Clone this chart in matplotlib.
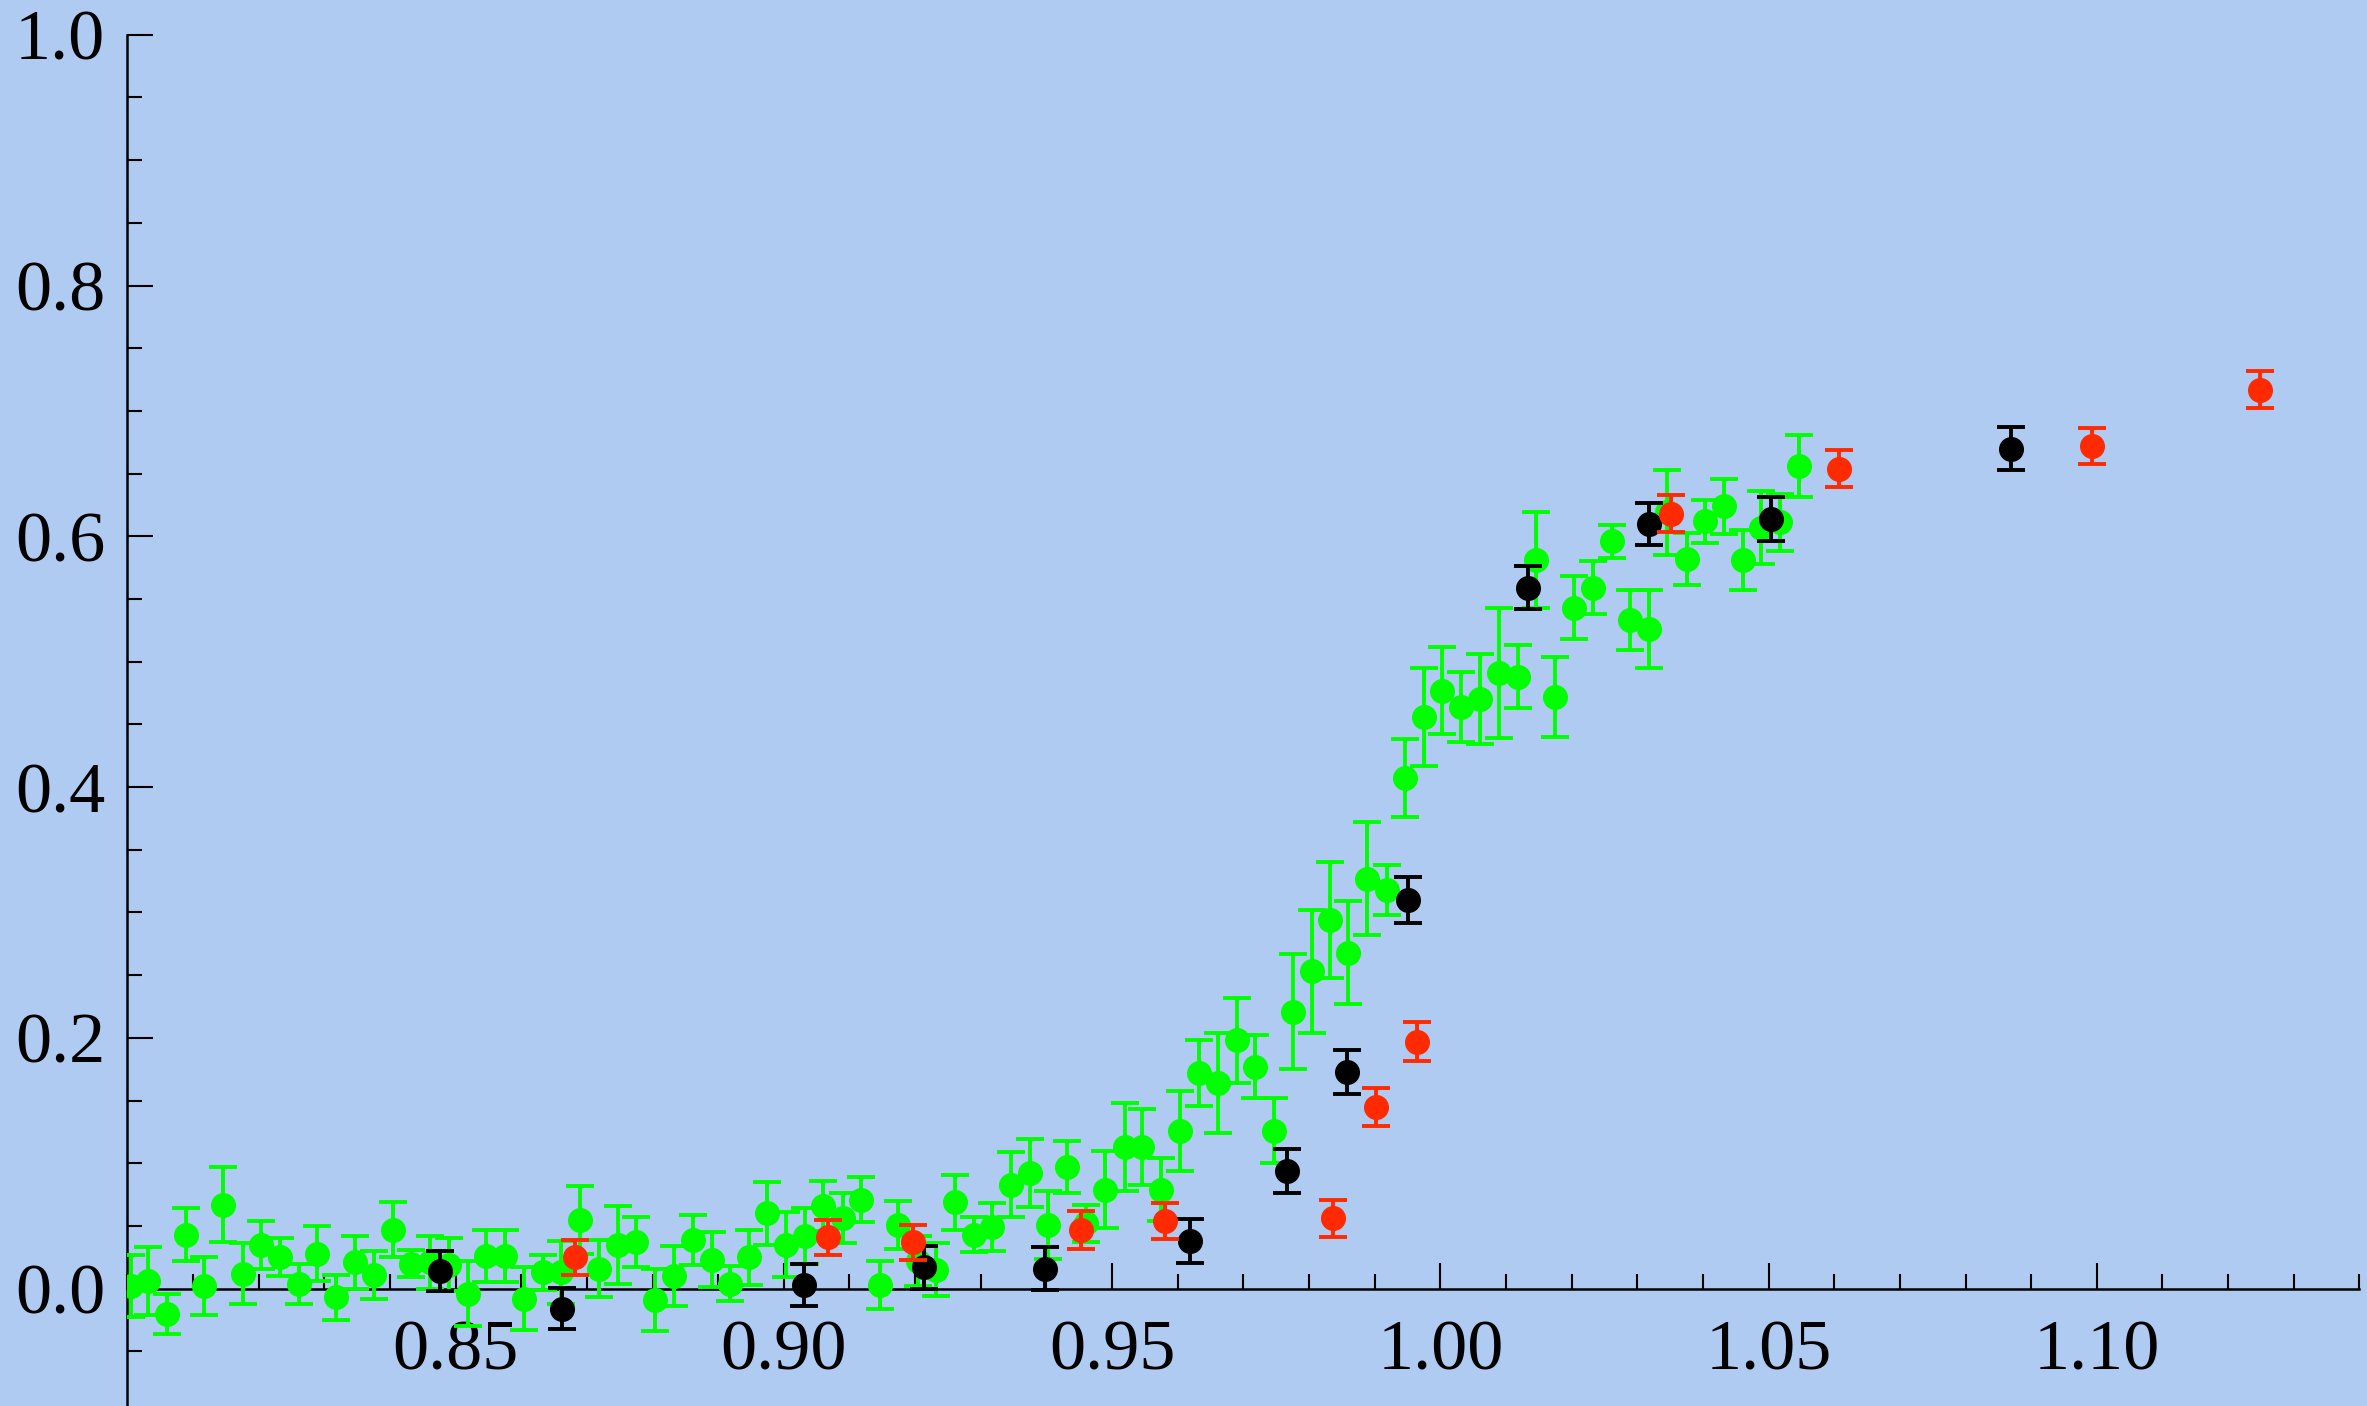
import matplotlib
matplotlib.use('Agg')
import matplotlib.pyplot as plt
from matplotlib.ticker import MultipleLocator, FixedLocator

# green series
green_x = [0.8005, 0.8032, 0.8061, 0.8089, 0.8117, 0.8146, 0.8176, 0.8203, 0.8233, 0.8261,
           0.8289, 0.8318, 0.8347, 0.8375, 0.8404, 0.8432, 0.8461, 0.8490, 0.8519, 0.8547,
           0.8575, 0.8604, 0.8633, 0.8660, 0.8689, 0.8718, 0.8747, 0.8775, 0.8804, 0.8832,
           0.8861, 0.8890, 0.8918, 0.8947, 0.8975, 0.9003, 0.9032, 0.9060, 0.9090, 0.9117,
           0.9147, 0.9174, 0.9204, 0.9232, 0.9260, 0.9289, 0.9317, 0.9346, 0.9375, 0.9403,
           0.9432, 0.9461, 0.9489, 0.9519, 0.9546, 0.9575, 0.9604, 0.9632, 0.9661, 0.9690,
           0.9718, 0.9746, 0.9775, 0.9804, 0.9832, 0.9860, 0.9889, 0.9918, 0.9946, 0.9975,
           1.0003, 1.0032, 1.0061, 1.0089, 1.0118, 1.0146, 1.0175, 1.0204, 1.0233, 1.0261,
           1.0289, 1.0318, 1.0346, 1.0375, 1.0403, 1.0432, 1.0461, 1.0488, 1.0518, 1.0546]
green_y = [0.002, 0.006, -0.020, 0.043, 0.002, 0.067, 0.012, 0.035, 0.025, 0.004,
           0.028, -0.007, 0.021, 0.011, 0.047, 0.020, 0.021, 0.019, -0.004, 0.026,
           0.026, -0.008, 0.013, 0.013, 0.055, 0.016, 0.035, 0.037, -0.009, 0.010,
           0.039, 0.023, 0.004, 0.025, 0.060, 0.035, 0.042, 0.066, 0.056, 0.071,
           0.003, 0.051, 0.022, 0.015, 0.069, 0.043, 0.049, 0.083, 0.092, 0.051,
           0.097, 0.052, 0.079, 0.113, 0.113, 0.079, 0.126, 0.172, 0.164, 0.198,
           0.177, 0.126, 0.221, 0.253, 0.294, 0.268, 0.327, 0.318, 0.407, 0.456,
           0.477, 0.464, 0.470, 0.491, 0.488, 0.581, 0.472, 0.543, 0.559, 0.596,
           0.533, 0.526, 0.619, 0.582, 0.612, 0.624, 0.581, 0.607, 0.611, 0.656]
green_err = [0.025, 0.027, 0.016, 0.021, 0.023, 0.030, 0.024, 0.019, 0.015, 0.016,
             0.022, 0.018, 0.021, 0.019, 0.022, 0.011, 0.021, 0.021, 0.026, 0.021,
             0.021, 0.025, 0.014, 0.025, 0.027, 0.023, 0.031, 0.020, 0.025, 0.024,
             0.020, 0.022, 0.014, 0.022, 0.025, 0.026, 0.022, 0.020, 0.020, 0.018,
             0.019, 0.019, 0.020, 0.021, 0.022, 0.014, 0.019, 0.026, 0.027, 0.027,
             0.021, 0.015, 0.031, 0.035, 0.030, 0.025, 0.032, 0.026, 0.040, 0.034,
             0.025, 0.026, 0.046, 0.049, 0.046, 0.041, 0.045, 0.020, 0.031, 0.039,
             0.035, 0.028, 0.036, 0.052, 0.025, 0.038, 0.032, 0.025, 0.021, 0.013,
             0.024, 0.031, 0.034, 0.021, 0.017, 0.022, 0.024, 0.029, 0.023, 0.025]

# black series
black_x = [0.8477, 0.8662, 0.9030, 0.9213, 0.9398, 0.9618, 0.9766, 0.9858, 0.9950,
           1.0134, 1.0318, 1.0503, 1.0870]
black_y = [0.014, -0.016, 0.003, 0.017, 0.016, 0.038, 0.094, 0.173, 0.310,
           0.559, 0.610, 0.614, 0.670]
black_err = [0.016, 0.0165, 0.017, 0.017, 0.017, 0.0175, 0.0174, 0.0177, 0.0185,
             0.0171, 0.0169, 0.0177, 0.0174]

# red series
red_x = [0.8682, 0.9067, 0.9196, 0.9453, 0.9580, 0.9837, 0.9902, 0.9965,
         1.0351, 1.0607, 1.0993, 1.1249]
red_y = [0.025, 0.041, 0.037, 0.047, 0.054, 0.056, 0.145, 0.197,
         0.618, 0.654, 0.672, 0.717]
red_err = [0.014, 0.014, 0.014, 0.015, 0.0145, 0.0146, 0.0151, 0.0153,
           0.0146, 0.0149, 0.0146, 0.0147]

x_ticks = [0.85, 0.90, 0.95, 1.00, 1.05, 1.10]
x_labels = ['0.85', '0.90', '0.95', '1.00', '1.05', '1.10']
y_ticks = [0.0, 0.2, 0.4, 0.6, 0.8, 1.0]
y_labels = ['0.0', '0.2', '0.4', '0.6', '0.8', '1.0']

BG = '#b0cbf1'

plt.rcParams['font.family'] = ['Liberation Serif', 'DejaVu Serif']

fig = plt.figure(figsize=(23.67, 14.06), dpi=100, facecolor=BG)
ax = fig.add_axes([0.0538, 0.0, 0.943, 0.9753])
ax.set_facecolor(BG)

estilo = dict(fmt='o', markersize=17, elinewidth=2.8, capsize=10, capthick=2.8,
              linestyle='none')
ax.errorbar(green_x, green_y, yerr=green_err, color='#00ff00', **estilo, zorder=3)
ax.errorbar(black_x, black_y, yerr=black_err, color='black', **estilo, zorder=4)
ax.errorbar(red_x, red_y, yerr=red_err, color='#ff2a00', **estilo, zorder=5)

ax.set_xlim(0.80, 1.14)
ax.set_ylim(-0.0936, 1.0)

ax.spines['top'].set_visible(False)
ax.spines['right'].set_visible(False)
ax.spines['bottom'].set_position(('data', 0))
ax.spines['bottom'].set_linewidth(1.8)
ax.spines['left'].set_linewidth(1.8)
ax.spines['bottom'].set_zorder(2)

ax.xaxis.set_major_locator(FixedLocator(x_ticks))
ax.set_xticklabels(x_labels)
ax.xaxis.set_minor_locator(MultipleLocator(0.01))
ax.yaxis.set_major_locator(FixedLocator(y_ticks))
ax.set_yticklabels(y_labels)
ax.yaxis.set_minor_locator(MultipleLocator(0.05))

ax.tick_params(axis='both', which='major', direction='in', length=18.5, width=1.5,
               labelsize=52, colors='black')
ax.tick_params(axis='both', which='minor', direction='in', length=11, width=1.5)
ax.tick_params(axis='x', which='major', pad=22)
ax.tick_params(axis='y', which='major', pad=16)

fig.savefig('out.png', dpi=100, facecolor=BG)
plt.close(fig)
